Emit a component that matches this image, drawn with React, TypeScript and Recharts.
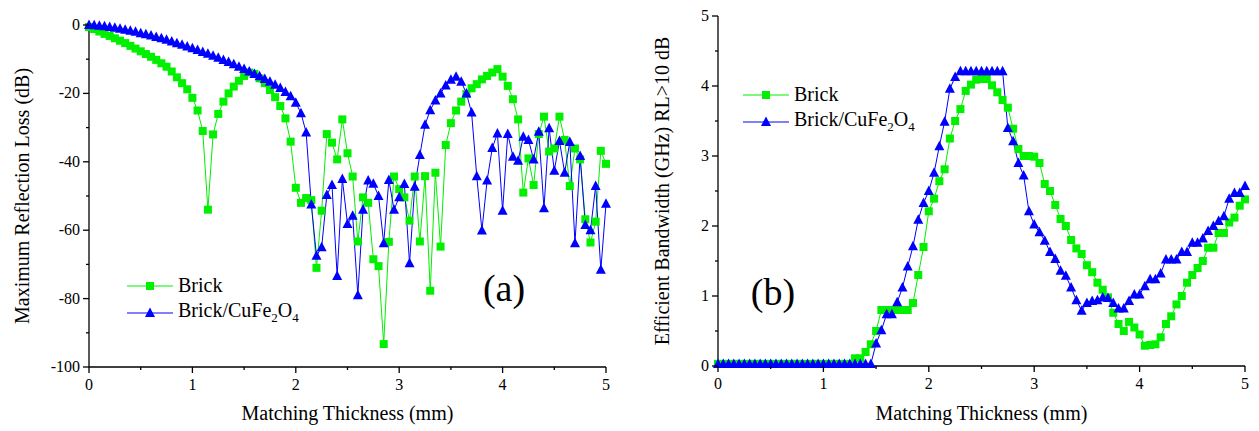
import React from "react";
import { LineChart, Line, XAxis, YAxis, Legend } from "recharts";

const FONT = '"Liberation Serif", "Times New Roman", serif';
const GREEN = "#00f000";
const BLUE = "#0000ff";

// matching thickness (mm), 0.05 mm steps
const thickness = [
  0, 0.05, 0.1, 0.15, 0.2, 0.25, 0.3, 0.35, 0.4, 0.45,
  0.5, 0.55, 0.6, 0.65, 0.7, 0.75, 0.8, 0.85, 0.9, 0.95,
  1, 1.05, 1.1, 1.15, 1.2, 1.25, 1.3, 1.35, 1.4, 1.45,
  1.5, 1.55, 1.6, 1.65, 1.7, 1.75, 1.8, 1.85, 1.9, 1.95,
  2, 2.05, 2.1, 2.15, 2.2, 2.25, 2.3, 2.35, 2.4, 2.45,
  2.5, 2.55, 2.6, 2.65, 2.7, 2.75, 2.8, 2.85, 2.9, 2.95,
  3, 3.05, 3.1, 3.15, 3.2, 3.25, 3.3, 3.35, 3.4, 3.45,
  3.5, 3.55, 3.6, 3.65, 3.7, 3.75, 3.8, 3.85, 3.9, 3.95,
  4, 4.05, 4.1, 4.15, 4.2, 4.25, 4.3, 4.35, 4.4, 4.45,
  4.5, 4.55, 4.6, 4.65, 4.7, 4.75, 4.8, 4.85, 4.9, 4.95,
  5,
];

// (a) maximum reflection loss, dB
const brickRL = [
  -0.6, -1.2, -1.9, -2.6, -3.2, -3.9, -4.6, -5.3, -6.1, -6.9,
  -7.7, -8.5, -9.3, -10.2, -11.2, -12.2, -13.6, -15.3, -17.0, -18.8,
  -21.3, -25.0, -31.0, -54.0, -32.0, -26.0, -22.4, -20.0, -18.0, -16.3,
  -14.9, -13.9, -14.3, -15.6, -17.0, -19.0, -21.1, -23.7, -27.3, -34.1,
  -47.6, -52.0, -50.6, -51.2, -71.0, -54.3, -31.9, -34.4, -39.3, -27.6,
  -37.5, -44.3, -63.3, -50.4, -52.0, -68.5, -70.5, -93.3, -63.4, -44.3,
  -48.0, -50.4, -57.2, -44.3, -63.3, -44.2, -77.7, -43.2, -64.8, -35.1,
  -28.7, -25.0, -22.4, -20.2, -18.5, -17.3, -15.9, -14.9, -13.9, -12.9,
  -15.1, -17.8, -21.7, -27.6, -49.0, -39.0, -46.8, -31.9, -26.8, -37.0,
  -36.1, -26.8, -33.6, -47.1, -36.1, -39.3, -56.8, -63.6, -57.5, -36.8,
  -40.6,
];

const compositeRL = [
  0, -0.1, -0.2, -0.4, -0.6, -0.8, -1.1, -1.4, -1.7, -2.0,
  -2.4, -2.7, -3.1, -3.5, -3.9, -4.3, -4.8, -5.3, -5.8, -6.3,
  -6.8, -7.3, -7.9, -8.4, -9.0, -9.6, -10.2, -10.8, -11.5, -12.2,
  -12.9, -13.6, -14.3, -15.0, -15.8, -16.6, -17.5, -18.4, -19.6, -20.8,
  -22.7, -25.8, -31.4, -52.5, -67.5, -65.0, -49.7, -46.8, -73.4, -45.0,
  -58.2, -55.8, -79.0, -54.0, -45.5, -46.4, -50.0, -63.8, -45.3, -54.0,
  -50.4, -46.5, -69.7, -47.3, -38.0, -29.2, -24.9, -22.1, -20.0, -17.7,
  -16.0, -15.1, -16.6, -20.0, -25.6, -44.2, -60.1, -45.5, -36.0, -31.7,
  -54.3, -31.9, -38.5, -39.7, -32.7, -33.6, -39.3, -31.2, -53.6, -30.2,
  -42.6, -33.9, -43.2, -34.2, -63.8, -38.3, -58.5, -60.0, -47.1, -71.6,
  -52.3,
];

// (b) efficient bandwidth, GHz
const brickBW = [
  0.03, 0.03, 0.03, 0.03, 0.03, 0.03, 0.03, 0.03, 0.03, 0.03,
  0.03, 0.03, 0.03, 0.03, 0.03, 0.03, 0.03, 0.03, 0.03, 0.03,
  0.03, 0.03, 0.03, 0.03, 0.03, 0.03, 0.11, 0.11, 0.2, 0.31,
  0.5, 0.8, 0.8, 0.8, 0.8, 0.8, 0.8, 0.9, 1.3, 1.7,
  2.21, 2.39, 2.64, 2.81, 3.25, 3.5, 3.67, 3.93, 4.02, 4.09,
  4.1, 4.1, 4.01, 3.91, 3.8, 3.69, 3.39, 3.1, 3.0, 3.0,
  2.99, 2.9, 2.6, 2.5, 2.3, 2.1, 2.0, 1.8, 1.68, 1.6,
  1.44, 1.34, 1.19, 1.09, 0.98, 0.76, 0.6, 0.5, 0.63, 0.55,
  0.45, 0.29, 0.3, 0.31, 0.41, 0.6, 0.71, 0.88, 1.0, 1.19,
  1.3, 1.4, 1.5, 1.69, 1.69, 1.9, 1.9, 2.05, 2.12, 2.29,
  2.38,
];

const compositeBW = [
  0.03, 0.03, 0.03, 0.03, 0.03, 0.03, 0.03, 0.03, 0.03, 0.03,
  0.03, 0.03, 0.03, 0.03, 0.03, 0.03, 0.03, 0.03, 0.03, 0.03,
  0.03, 0.03, 0.03, 0.03, 0.03, 0.03, 0.03, 0.03, 0.03, 0.03,
  0.32, 0.51, 0.74, 0.74, 0.91, 1.12, 1.42, 1.71, 2.09, 2.33,
  2.5, 2.76, 3.14, 3.49, 3.96, 4.13, 4.21, 4.21, 4.21, 4.21,
  4.21, 4.21, 4.21, 4.21, 4.21, 3.4, 3.21, 2.9, 2.72, 2.21,
  2.02, 1.91, 1.79, 1.63, 1.53, 1.36, 1.29, 1.12, 0.94, 0.79,
  0.9, 0.93, 0.94, 0.98, 0.97, 0.9, 0.82, 0.82, 0.93, 1.02,
  1.02, 1.14, 1.24, 1.24, 1.32, 1.52, 1.52, 1.52, 1.63, 1.63,
  1.76, 1.76, 1.82, 1.93, 2.0, 2.07, 2.14, 2.39, 2.47, 2.47,
  2.57,
];

const xTicks = [0, 0.5, 1, 1.5, 2, 2.5, 3, 3.5, 4, 4.5, 5];
const rlTicks = [-100, -90, -80, -70, -60, -50, -40, -30, -20, -10, 0];
const bwTicks = [0, 0.5, 1, 1.5, 2, 2.5, 3, 3.5, 4, 4.5, 5];

const rlData = thickness.map((t, i) => ({ t, brick: brickRL[i], composite: compositeRL[i] }));
const bwData = thickness.map((t, i) => ({ t, brick: brickBW[i], composite: compositeBW[i] }));

const isWhole = (v: number) => Math.abs(v - Math.round(v)) < 1e-6;

function BottomTick(props: any) {
  const { x, y, payload } = props;
  const major = isWhole(payload.value);
  return (
    <g>
      <line x1={x} x2={x} y1={y} y2={y + (major ? 6 : 3)} stroke="#000" strokeWidth={1.3} />
      {major && (
        <text x={x} y={y + 23} textAnchor="middle" fontFamily={FONT} fontSize={16} fill="#000">
          {payload.value}
        </text>
      )}
    </g>
  );
}

const makeLeftTick = (isMajor: (v: number) => boolean) => (props: any) => {
  const { x, y, payload } = props;
  const major = isMajor(payload.value);
  return (
    <g>
      <line x1={x} x2={x - (major ? 6 : 3)} y1={y} y2={y} stroke="#000" strokeWidth={1.3} />
      {major && (
        <text x={x - 9} y={y + 5} textAnchor="end" fontFamily={FONT} fontSize={16} fill="#000">
          {payload.value}
        </text>
      )}
    </g>
  );
};

const title = (x: number, y: number, text: string, vertical = false) => () => (
  <text
    x={x}
    y={y}
    textAnchor="middle"
    dominantBaseline="central"
    transform={vertical ? `rotate(-90 ${x} ${y})` : undefined}
    fontFamily={FONT}
    fontSize={20}
    fill="#000"
  >
    {text}
  </text>
);

function square(props: any) {
  const { cx, cy, index } = props;
  return <rect key={`s${index}`} x={cx - 4} y={cy - 4} width={8} height={8} fill={GREEN} />;
}

function triangle(props: any) {
  const { cx, cy, index } = props;
  return (
    <polygon
      key={`t${index}`}
      points={`${cx},${cy - 5.5} ${cx - 5},${cy + 4} ${cx + 5},${cy + 4}`}
      fill={BLUE}
    />
  );
}

function LegendBox() {
  const row = { display: "flex", alignItems: "center", height: 27 } as const;
  return (
    <div style={{ fontFamily: FONT, fontSize: 20, color: "#000", whiteSpace: "nowrap" }}>
      <div style={row}>
        <svg width={46} height={12}>
          <line x1={0} x2={46} y1={6} y2={6} stroke={GREEN} strokeWidth={1} />
          <rect x={19} y={2} width={8} height={8} fill={GREEN} />
        </svg>
        <span style={{ marginLeft: 5 }}>Brick</span>
      </div>
      <div style={row}>
        <svg width={46} height={12}>
          <line x1={0} x2={46} y1={6} y2={6} stroke={BLUE} strokeWidth={1} />
          <polygon points="23,0.5 18,10 28,10" fill={BLUE} />
        </svg>
        <span style={{ marginLeft: 5 }}>
          Brick/CuFe<sub style={{ fontSize: 13 }}>2</sub>O<sub style={{ fontSize: 13 }}>4</sub>
        </span>
      </div>
    </div>
  );
}

const axisLine = { stroke: "#000", strokeWidth: 1.3 };

export default function App() {
  return (
    <div style={{ position: "absolute", left: 0, top: 0, width: 1259, height: 431, background: "#fff", fontFamily: FONT }}>
      <div style={{ position: "absolute", left: 0, top: 0 }}>
        <LineChart width={620} height={431} data={rlData} margin={{ top: 25, right: 14, bottom: 24, left: 0 }}>
          <XAxis
            dataKey="t"
            type="number"
            domain={[0, 5]}
            ticks={xTicks}
            interval={0}
            tickLine={false}
            tickSize={0}
            tickMargin={0}
            tick={BottomTick}
            axisLine={axisLine}
            height={40}
            label={{ content: title(347.5, 413, "Matching Thickness (mm)") }}
          />
          <YAxis
            type="number"
            domain={[-100, 0]}
            ticks={rlTicks}
            interval={0}
            tickLine={false}
            tickSize={0}
            tickMargin={0}
            tick={makeLeftTick((v) => v % 20 === 0)}
            axisLine={axisLine}
            width={89}
            label={{ content: title(22, 196, "Maximum Reflection Loss (dB)", true) }}
          />
          <Legend
            layout="vertical"
            align="center"
            verticalAlign="middle"
            wrapperStyle={{ top: 272, left: 127, width: 220 }}
            content={() => <LegendBox />}
          />
          <Line dataKey="brick" stroke={GREEN} strokeWidth={1} dot={square} activeDot={false} isAnimationActive={false} />
          <Line dataKey="composite" stroke={BLUE} strokeWidth={1} dot={triangle} activeDot={false} isAnimationActive={false} />
        </LineChart>
      </div>
      <div style={{ position: "absolute", left: 630, top: 0 }}>
        <LineChart width={629} height={431} data={bwData} margin={{ top: 16, right: 14, bottom: 25, left: 0 }}>
          <XAxis
            dataKey="t"
            type="number"
            domain={[0, 5]}
            ticks={xTicks}
            interval={0}
            tickLine={false}
            tickSize={0}
            tickMargin={0}
            tick={BottomTick}
            axisLine={axisLine}
            height={40}
            label={{ content: title(351.5, 413, "Matching Thickness (mm)") }}
          />
          <YAxis
            type="number"
            domain={[0, 5]}
            ticks={bwTicks}
            interval={0}
            tickLine={false}
            tickSize={0}
            tickMargin={0}
            tick={makeLeftTick(isWhole)}
            axisLine={axisLine}
            width={88}
            label={{ content: title(32, 191, "Efficient Bandwidth (GHz) RL>10 dB", true) }}
          />
          <Legend
            layout="vertical"
            align="center"
            verticalAlign="middle"
            wrapperStyle={{ top: 81, left: 113, width: 220 }}
            content={() => <LegendBox />}
          />
          <Line dataKey="brick" stroke={GREEN} strokeWidth={1} dot={square} activeDot={false} isAnimationActive={false} />
          <Line dataKey="composite" stroke={BLUE} strokeWidth={1} dot={triangle} activeDot={false} isAnimationActive={false} />
        </LineChart>
      </div>
      <div style={{ position: "absolute", left: 504, top: 288, transform: "translate(-50%, -50%)", fontSize: 38, lineHeight: 1 }}>
        (a)
      </div>
      <div style={{ position: "absolute", left: 773, top: 292, transform: "translate(-50%, -50%)", fontSize: 38, lineHeight: 1 }}>
        (b)
      </div>
    </div>
  );
}
